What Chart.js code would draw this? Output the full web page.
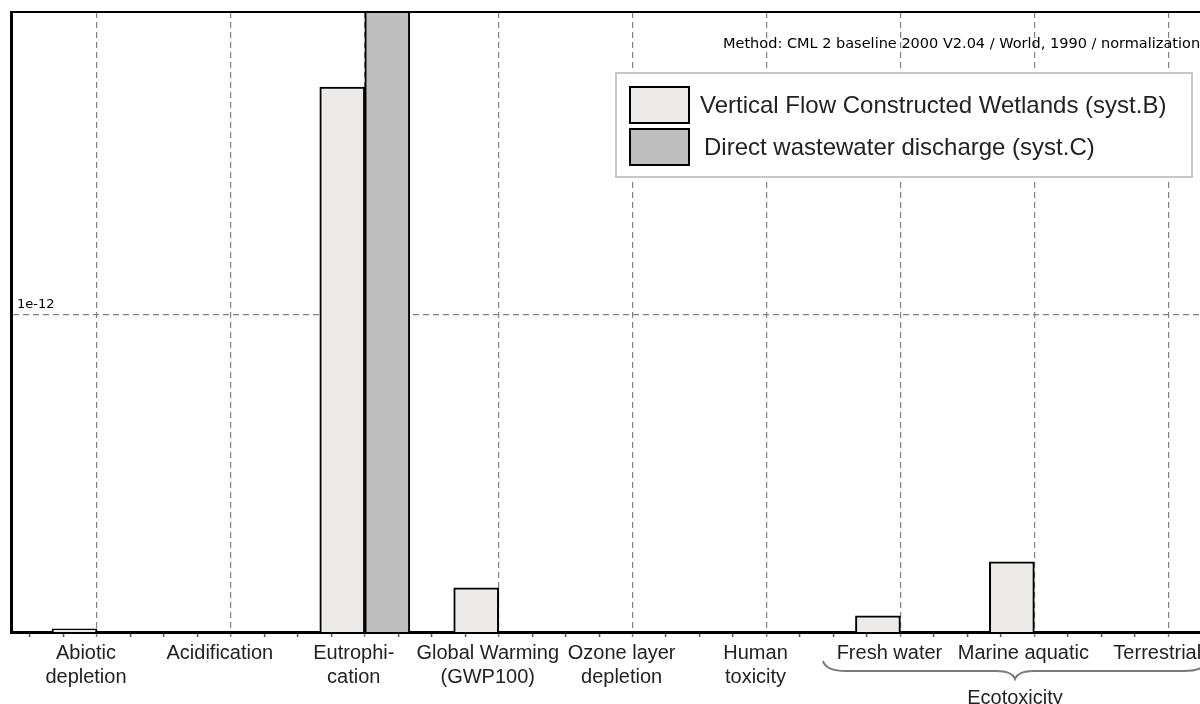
<!DOCTYPE html>
<html>
<head>
<meta charset="utf-8">
<script src="https://cdn.jsdelivr.net/npm/chart.js@4.4.1/dist/chart.umd.min.js"></script>
<style>
  html, body { margin: 0; padding: 0; background: #fff; overflow: hidden; }
  #wrap { width: 1200px; height: 704px; position: relative; }
</style>
</head>
<body>
<div id="wrap"><canvas id="chart"></canvas></div>
<script>
// categories along the x axis (multi-line where the picture wraps them)
const categories = [
    ['Abiotic', 'depletion'],
    'Acidification',
    ['Eutrophi-', 'cation'],
    ['Global Warming', '(GWP100)'],
    ['Ozone layer', 'depletion'],
    ['Human', 'toxicity'],
    'Fresh water',
    'Marine aquatic',
    'Terrestrial'
];
const seriesNames = [
    'Vertical Flow Constructed Wetlands (syst.B)',
    'Direct wastewater discharge (syst.C)'
];
// normalised values
const systB = [0.010e-12, 0, 1.719e-12, 0.139e-12, 0, 0, 0.051e-12, 0.221e-12, 0];
const systC = [0, 0, 2.10e-12, 0, 0, 0, 0, 0, 0];
const yTickValues = [1e-12];
const yTickLabels = ['1e-12'];
const groupLabel = 'Ecotoxicity';
const methodText = 'Method: CML 2 baseline 2000 V2.04 / World, 1990 / normalization';

const fillB = '#ecebe9';
const fillC = '#bebebe';
const gridGrey = '#808080';

function toPoints(values) {
    return values.map((v, i) => ({ x: i, y: v }));
}

function isMajor(c) {
    return !!(c && c.tick && Number.isInteger(c.tick.value));
}

const decorations = {
    id: 'decorations',
    afterDatasetsDraw(chart) {
        const { ctx, chartArea } = chart;
        ctx.save();
        // top frame line
        ctx.strokeStyle = '#000';
        ctx.lineWidth = 2;
        ctx.beginPath();
        ctx.moveTo(chartArea.left, chartArea.top);
        ctx.lineTo(chartArea.right, chartArea.top);
        ctx.stroke();

        // legend box
        ctx.fillStyle = '#fff';
        ctx.fillRect(616, 73, 576, 104);
        ctx.strokeStyle = '#c8c8c8';
        ctx.lineWidth = 2;
        ctx.strokeRect(616, 73, 576, 104);
        const swatches = [fillB, fillC];
        ctx.font = '24px "Liberation Sans", Arial, sans-serif';
        ctx.textBaseline = 'middle';
        ctx.textAlign = 'left';
        seriesNames.forEach((name, i) => {
            const y = 87 + i * 42;
            ctx.fillStyle = swatches[i];
            ctx.fillRect(630, y, 59, 36);
            ctx.strokeStyle = '#000';
            ctx.lineWidth = 2;
            ctx.strokeRect(630, y, 59, 36);
            ctx.fillStyle = '#222';
            ctx.fillText(name, 700 + i * 4, y + 19);
        });
        ctx.restore();
    },
    afterDraw(chart) {
        const { ctx } = chart;
        ctx.save();
        ctx.fillStyle = '#000';
        ctx.font = '14.5px "DejaVu Sans", sans-serif';
        ctx.textBaseline = 'middle';
        ctx.fillText(methodText, 723, 44);

        // brace under the ecotoxicity group
        ctx.strokeStyle = '#7a7a7a';
        ctx.lineWidth = 2;
        ctx.beginPath();
        ctx.moveTo(823, 661);
        ctx.quadraticCurveTo(826, 671, 846, 671);
        ctx.lineTo(996, 671);
        ctx.quadraticCurveTo(1012, 671, 1015, 679);
        ctx.quadraticCurveTo(1018, 671, 1034, 671);
        ctx.lineTo(1184, 671);
        ctx.quadraticCurveTo(1204, 671, 1207, 661);
        ctx.stroke();

        ctx.fillStyle = '#222';
        ctx.font = '20px "Liberation Sans", Arial, sans-serif';
        ctx.textAlign = 'center';
        ctx.textBaseline = 'alphabetic';
        ctx.fillText(groupLabel, 1015, 704);
        ctx.restore();
    }
};

const ctx = document.getElementById('chart').getContext('2d');
new Chart(ctx, {
    type: 'bar',
    data: {
        datasets: [
            {
                label: seriesNames[0],
                data: toPoints(systB),
                backgroundColor: fillB,
                borderColor: '#000',
                borderWidth: 2,
                clip: 0
            },
            {
                label: seriesNames[1],
                data: toPoints(systC),
                backgroundColor: fillC,
                borderColor: '#000',
                borderWidth: 2,
                clip: 0
            }
        ]
    },
    options: {
        responsive: true,
        maintainAspectRatio: false,
        animation: false,
        devicePixelRatio: 1,
        barThickness: 45,
        layout: { padding: { left: 11, top: 12, right: 0, bottom: 0 } },
        plugins: {
            legend: { display: false },
            tooltip: { enabled: false }
        },
        scales: {
            x: {
                type: 'linear',
                offset: false,
                min: -0.642,
                max: 8.237,
                afterBuildTicks(scale) {
                    const ticks = [];
                    for (let k = -2; k <= 33; k++) ticks.push({ value: k / 4 });
                    scale.ticks = ticks;
                },
                afterFit(scale) {
                    scale.height = 72;
                    scale.paddingLeft = 0;
                    scale.paddingRight = 0;
                },
                ticks: {
                    autoSkip: false,
                    maxRotation: 0,
                    padding: 4,
                    labelOffset: -11,
                    color: '#222',
                    font: { family: '"Liberation Sans", Arial, sans-serif', size: 20 },
                    callback: (value) => Number.isInteger(value) && categories[value] !== undefined ? categories[value] : ''
                },
                grid: {
                    offset: false,
                    color: (c) => isMajor(c) ? gridGrey : 'rgba(0,0,0,0)',
                    tickColor: (c) => isMajor(c) ? gridGrey : '#555',
                    lineWidth: 1.2,
                    tickLength: 5,
                    tickWidth: 1.5
                },
                border: { display: true, color: '#000', width: 3, dash: [6, 4] }
            },
            y: {
                min: 0,
                max: 1.956e-12,
                afterBuildTicks(scale) {
                    scale.ticks = yTickValues.map(v => ({ value: v }));
                },
                afterFit(scale) {
                    scale.width = 0;
                    scale.paddingTop = 0;
                    scale.paddingBottom = 0;
                },
                ticks: {
                    mirror: true,
                    padding: 6,
                    labelOffset: -10,
                    color: '#000',
                    font: { family: '"DejaVu Sans", sans-serif', size: 13 },
                    callback: (value, index) => yTickLabels[index]
                },
                grid: {
                    color: gridGrey,
                    lineWidth: 1.2,
                    drawTicks: false
                },
                border: { display: true, color: '#000', width: 3, dash: [6, 4] }
            }
        }
    },
    plugins: [decorations]
});
</script>
</body>
</html>
